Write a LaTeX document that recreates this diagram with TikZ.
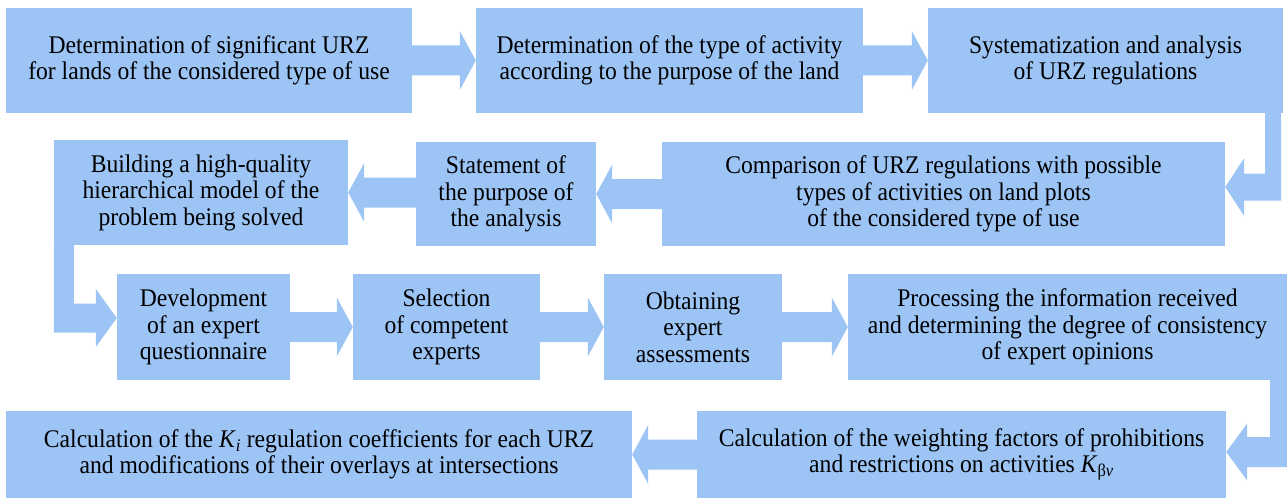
\documentclass[tikz,border=0pt]{standalone}
\usepackage{fontspec}
\setmainfont{Liberation Serif}
\newfontfamily\boxserif[FakeStretch=0.93]{Liberation Serif}
\usetikzlibrary{calc}
\definecolor{boxblue}{RGB}{156,196,245}
\tikzset{
  box/.style={rectangle, fill=boxblue, inner sep=0pt, align=center,
    font=\boxserif\fontsize{25.4}{26.5}\selectfont, text=black},
  arr/.style={fill=boxblue}
}
% horizontal block arrow from #1 to #2 (right- or left-pointing), at #2's centre height
\newcommand\blockRight[2]{%
  \fill[arr] let \p1=(#1.east), \p2=(#2.west) in
    (\x1,\y2+15pt) -- (\x2-16pt,\y2+15pt) -- (\x2-16pt,\y2+29.5pt) -- (\x2,\y2)
    -- (\x2-16pt,\y2-29.5pt) -- (\x2-16pt,\y2-15pt) -- (\x1,\y2-15pt) -- cycle;}
\newcommand\blockLeft[2]{%
  \fill[arr] let \p1=(#1.west), \p2=(#2.east) in
    (\x1,\y2+15pt) -- (\x2+16pt,\y2+15pt) -- (\x2+16pt,\y2+29.5pt) -- (\x2,\y2)
    -- (\x2+16pt,\y2-29.5pt) -- (\x2+16pt,\y2-15pt) -- (\x1,\y2-15pt) -- cycle;}
\begin{document}
\begin{tikzpicture}[x=1pt,y=-1pt]
\useasboundingbox (0,0) rectangle (1287,500);
% Row 1
\node[box, minimum width=406, minimum height=105] (b1) at (209,60.5)
  {Determination of significant URZ\\for lands of the considered type of use};
\node[box, minimum width=387, minimum height=105] (b2) at (669.5,60.5)
  {Determination of the type of activity\\according to the purpose of the land};
\node[box, minimum width=355, minimum height=105] (b3) at (1105.5,60.5)
  {Systematization and analysis\\of URZ regulations};
% Row 2
\node[box, minimum width=294, minimum height=105] (bld) at (201,192.5)
  {Building a high-quality\\hierarchical model of the\\problem being solved};
\node[box, minimum width=180, minimum height=104] (stm) at (506,194)
  {Statement of\\the purpose of\\the analysis};
\node[box, minimum width=563, minimum height=104] (cmp) at (943.5,194)
  {Comparison of URZ regulations with possible\\types of activities on land plots\\of the considered type of use};
% Row 3
\node[box, minimum width=173, minimum height=106] (dev) at (203.5,327)
  {Development\\of an expert\\questionnaire};
\node[box, minimum width=187, minimum height=106] (sel) at (446.5,327)
  {Selection\\of competent\\experts};
\node[box, minimum width=178, minimum height=106] (obt) at (693,327)
  {Obtaining\\expert\\assessments};
\node[box, minimum width=439, minimum height=106] (prc) at (1067.5,327)
  {Processing the information received\\and determining the degree of consistency\\of expert opinions};
% Row 4
\node[box, minimum width=626, minimum height=87] (ki) at (319,454.5)
  {Calculation of the \textit{K}\textsubscript{\textit{i}} regulation coefficients for each URZ\\and modifications of their overlays at intersections};
\node[box, minimum width=529, minimum height=87] (wgt) at (961.5,454.5)
  {Calculation of the weighting factors of prohibitions\\and restrictions on activities \textit{K}\textsubscript{β\textit{ν}}};
% straight block arrows
\blockRight{b1}{b2}
\blockRight{b2}{b3}
\blockLeft{cmp}{stm}
\blockLeft{stm}{bld}
\blockRight{dev}{sel}
\blockRight{sel}{obt}
\blockRight{obt}{prc}
\blockLeft{wgt}{ki}
% L-shaped block arrows
\coordinate (t1) at ($(cmp.east)+(0,-7)$);
\fill[arr] let \p1=(b3.south east), \p2=(t1) in
  (\x1-18pt,\y1) -- (\x1-2pt,\y1) -- (\x1-2pt,\y2-13.5pt) -- (\x2+19pt,\y2-13.5pt)
  -- (\x2+19pt,\y2-29pt) -- (\x2,\y2) -- (\x2+19pt,\y2+29pt) -- (\x2+19pt,\y2+13.5pt)
  -- (\x1-18pt,\y2+13.5pt) -- cycle;
\coordinate (t2) at ($(dev.west)+(0,-9)$);
\fill[arr] let \p1=(bld.south west), \p2=(t2) in
  (\x1,\y1) -- (\x1+20pt,\y1) -- (\x1+20pt,\y2+14.5pt) -- (\x2-21pt,\y2+14.5pt)
  -- (\x2-21pt,\y2+29pt) -- (\x2,\y2) -- (\x2-21pt,\y2-29pt) -- (\x2-21pt,\y2-14.5pt)
  -- (\x1,\y2-14.5pt) -- cycle;
\coordinate (t3) at ($(wgt.east)+(0,-2.5)$);
\fill[arr] let \p1=(prc.south east), \p2=(t3) in
  (\x1-17pt,\y1) -- (\x1,\y1) -- (\x1,\y2-15pt) -- (\x2+21pt,\y2-15pt)
  -- (\x2+21pt,\y2-28.5pt) -- (\x2,\y2) -- (\x2+21pt,\y2+28.5pt) -- (\x2+21pt,\y2+15pt)
  -- (\x1-17pt,\y2+15pt) -- cycle;
\end{tikzpicture}
\end{document}
